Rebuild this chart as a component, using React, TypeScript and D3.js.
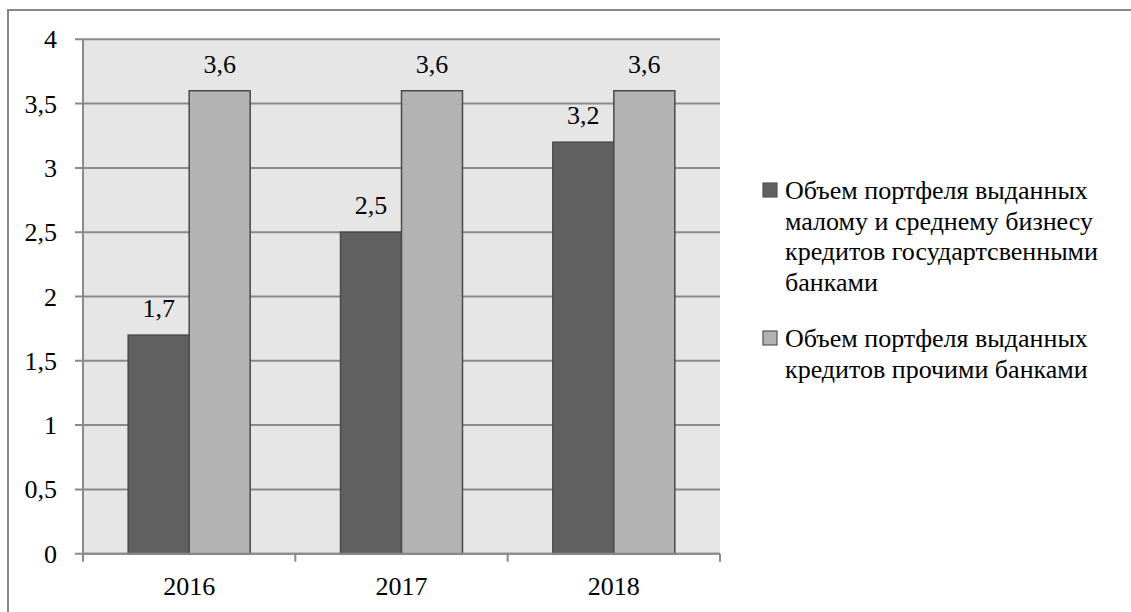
import React from "react";
import * as d3 from "d3";

const categories = ["2016", "2017", "2018"];
const seriesNames = [
  ["Объем портфеля выданных", "малому и среднему бизнесу", "кредитов государтсвенными", "банками"],
  ["Объем портфеля выданных", "кредитов прочими банками"],
];
const stateBanks = [1.7, 2.5, 3.2];
const otherBanks = [3.6, 3.6, 3.6];
const yTicks = [0, 0.5, 1, 1.5, 2, 2.5, 3, 3.5, 4];

const W = 1131;
const H = 612;
const FONT = "'Liberation Serif', 'Times New Roman', serif";
const COLORS = ["#606060", "#b3b3b3"];

export default function App() {
  const left = 83, right = 720, top = 39.3, bottom = 553.7;
  const x = d3.scaleBand<string>().domain(categories).range([left, right]).paddingInner(0).paddingOuter(0);
  const y = d3.scaleLinear().domain([0, 4]).range([bottom, top]);
  const barW = 61;
  const fmt = (v: number) => String(v).replace(".", ",");
  const series = [stateBanks, otherBanks];

  return (
    <svg width={W} height={H} style={{ position: "absolute", left: 0, top: 0, background: "#fff" }} fontFamily={FONT}>
      {/* outer border */}
      <line x1={8} x2={W} y1={10} y2={10} stroke="#888" strokeWidth={2} />
      <line x1={8} x2={8} y1={9} y2={H} stroke="#888" strokeWidth={2} />
      {/* plot background */}
      <rect x={left} y={top} width={right - left} height={bottom - top} fill="#e6e6e6" />
      {/* gridlines and y ticks */}
      {yTicks.map((t) => (
        <g key={t}>
          <line x1={left - 8} x2={right} y1={y(t)} y2={y(t)} stroke="#8a8a8a" strokeWidth={2} />
          <text x={57} y={y(t) + 9} textAnchor="end" fontSize={26} fill="#000">{fmt(t)}</text>
        </g>
      ))}
      {/* y axis line */}
      <line x1={left} x2={left} y1={top} y2={bottom} stroke="#8a8a8a" strokeWidth={2} />
      {/* bars */}
      {categories.map((c, i) => {
        const cx = (x(c) as number) + x.bandwidth() / 2;
        return (
          <g key={c}>
            {series.map((s, k) => {
              const bx = cx - barW + k * barW;
              return (
                <g key={k}>
                  <rect x={bx} y={y(s[i])} width={barW} height={y(0) - y(s[i])} fill={COLORS[k]} stroke="#4a4a4a" strokeWidth={1.5} />
                  <text x={bx + barW / 2} y={y(s[i]) - 18} textAnchor="middle" fontSize={26} fill="#000">{fmt(s[i])}</text>
                </g>
              );
            })}
            <text x={cx} y={595} textAnchor="middle" fontSize={26} fill="#000">{c}</text>
          </g>
        );
      })}
      {/* x axis line & category ticks */}
      <line x1={left} x2={right} y1={bottom} y2={bottom} stroke="#8a8a8a" strokeWidth={2} />
      {[...categories.map((c) => x(c) as number), right].map((tx, i) => (
        <line key={i} x1={tx} x2={tx} y1={bottom} y2={bottom + 8} stroke="#8a8a8a" strokeWidth={2} />
      ))}
      {/* legend */}
      {[{ sq: 183, base: 199 }, { sq: 331, base: 347 }].map((l, k) => (
        <g key={k}>
          <rect x={763} y={l.sq} width={14} height={14} fill={COLORS[k]} stroke="#555" strokeWidth={1.2} />
          {seriesNames[k].map((line, j) => (
            <text key={j} x={785} y={l.base + j * 30.5} fontSize={26} fill="#000">{line}</text>
          ))}
        </g>
      ))}
    </svg>
  );
}
